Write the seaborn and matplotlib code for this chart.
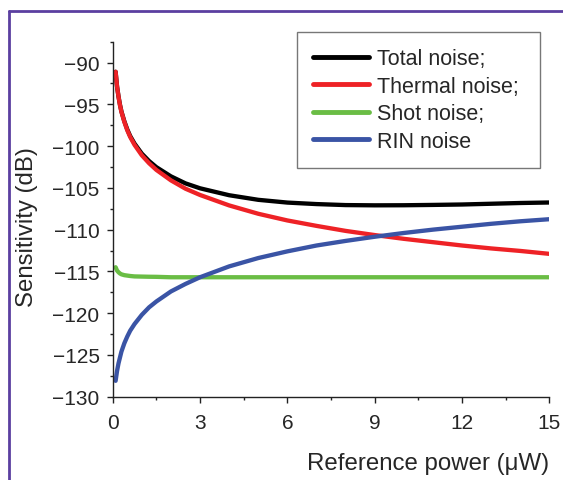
import matplotlib
matplotlib.use("Agg")
import matplotlib.pyplot as plt
from matplotlib.lines import Line2D
from matplotlib.ticker import MultipleLocator
import seaborn as sns
import pandas as pd

# ---- data ----
power = [0.1, 0.15, 0.2, 0.25, 0.3, 0.4, 0.5, 0.6, 0.75, 1, 1.25, 1.5, 2, 2.5, 3,
         4, 5, 6, 7, 8, 9, 10, 11, 12, 13, 14, 15]
total = [-91.1, -92.88, -94.07, -95.05, -95.85, -97.03, -98.0, -98.79, -99.7, -100.9,
         -101.79, -102.52, -103.62, -104.46, -105.05, -105.88, -106.43, -106.76, -106.94,
         -107.06, -107.09, -107.08, -107.04, -106.99, -106.9, -106.81, -106.75]
thermal = [-91.1, -92.9, -94.1, -95.1, -95.9, -97.1, -98.1, -98.9, -99.85, -101.1,
           -102.05, -102.85, -104.1, -105.1, -105.85, -107.1, -108.1, -108.9, -109.55,
           -110.15, -110.65, -111.1, -111.5, -111.9, -112.25, -112.55, -112.9]
shot = [-114.5, -114.9, -115.1, -115.25, -115.35, -115.45, -115.5, -115.55, -115.6, -115.62,
        -115.64, -115.65, -115.7, -115.7, -115.7, -115.7, -115.7, -115.7, -115.7,
        -115.7, -115.7, -115.7, -115.7, -115.7, -115.7, -115.7, -115.7]
rin = [-128.1, -126.9, -126.0, -125.3, -124.6, -123.6, -122.8, -122.1, -121.3, -120.2,
       -119.3, -118.6, -117.4, -116.5, -115.7, -114.4, -113.4, -112.6, -111.9,
       -111.35, -110.85, -110.4, -110.0, -109.65, -109.3, -109.0, -108.75]

series_names = ["Total noise;", "Thermal noise;", "Shot noise;", "RIN noise"]
series_values = [total, thermal, shot, rin]
colors = ["#000000", "#ee2226", "#6abd45", "#3a54a5"]

x_ticks = [0, 3, 6, 9, 12, 15]
y_ticks = [-130, -125, -120, -115, -110, -105, -100, -95, -90]

# ---- build long table ----
rows = []
for name, vals in zip(series_names, series_values):
    for xv, yv in zip(power, vals):
        rows.append({"power": xv, "value": yv, "series": name})
df = pd.DataFrame(rows)

sns.set_style("ticks")
plt.rcParams["font.family"] = ["Liberation Sans", "DejaVu Sans"]
plt.rcParams["axes.unicode_minus"] = True

W, H = 563, 481
fig = plt.figure(figsize=(W / 100, H / 100), dpi=100)
left, right, bottom_px, top_px = 112.7, 549.4, 397.7, 42.7
ax = fig.add_axes([left / W, 1 - bottom_px / H, (right - left) / W, (bottom_px - top_px) / H])

sns.lineplot(data=df, x="power", y="value", hue="series", hue_order=series_names,
             palette=dict(zip(series_names, colors)), linewidth=3.1, ax=ax,
             legend=True, estimator=None, sort=False)

ax.set_xlim(0, 15)
ax.set_ylim(-130, -87.5)
ax.set_xticks(x_ticks)
ax.set_yticks(y_ticks)
ax.xaxis.set_minor_locator(MultipleLocator(1.5))
ax.yaxis.set_minor_locator(MultipleLocator(2.5))
ax.tick_params(axis="both", which="major", direction="out", length=4.5, width=1.0,
               labelsize=15, color="#222222")
ax.tick_params(axis="x", which="major", pad=7)
ax.tick_params(axis="y", which="major", pad=5)
ax.tick_params(axis="both", which="minor", direction="out", length=2.5, width=1.0,
               color="#222222")
for s in ["top", "right"]:
    ax.spines[s].set_visible(False)
for s in ["left", "bottom"]:
    ax.spines[s].set_linewidth(1.0)
    ax.spines[s].set_color("#222222")

ax.set_xlabel("Reference power (\u03bcW)", fontsize=17.3, ha="right", va="center")
ax.xaxis.set_label_coords(1.0, (bottom_px - 464) / (bottom_px - top_px))
ax.set_ylabel("Sensitivity (dB)", fontsize=17.3, va="center")
ax.yaxis.set_label_coords((27 - left) / (right - left), 0.48)

handles, labels = ax.get_legend_handles_labels()
leg = ax.legend(handles, labels, loc="upper left",
                bbox_to_anchor=(296.7 / W, 1 - 167.7 / H, 243.3 / W, 134.4 / H),
                bbox_transform=fig.transFigure, mode="expand", borderaxespad=0,
                fontsize=15.5, frameon=True, fancybox=False, handlelength=2.6,
                handletextpad=0.4, labelspacing=0.3, borderpad=0.75)
leg.get_frame().set_edgecolor("#555555")
leg.get_frame().set_linewidth(1.0)
for h in leg.get_lines():
    h.set_linewidth(3.5)

# purple frame lines (left and top)
fc = "#5b3fa0"
fig.add_artist(Line2D([9 / W, 9 / W], [0, 1 - 12 / H], transform=fig.transFigure,
                      color=fc, lw=2.0))
fig.add_artist(Line2D([9 / W, 1], [1 - 12 / H, 1 - 12 / H], transform=fig.transFigure,
                      color=fc, lw=2.0))

fig.savefig("out.png", dpi=100)
